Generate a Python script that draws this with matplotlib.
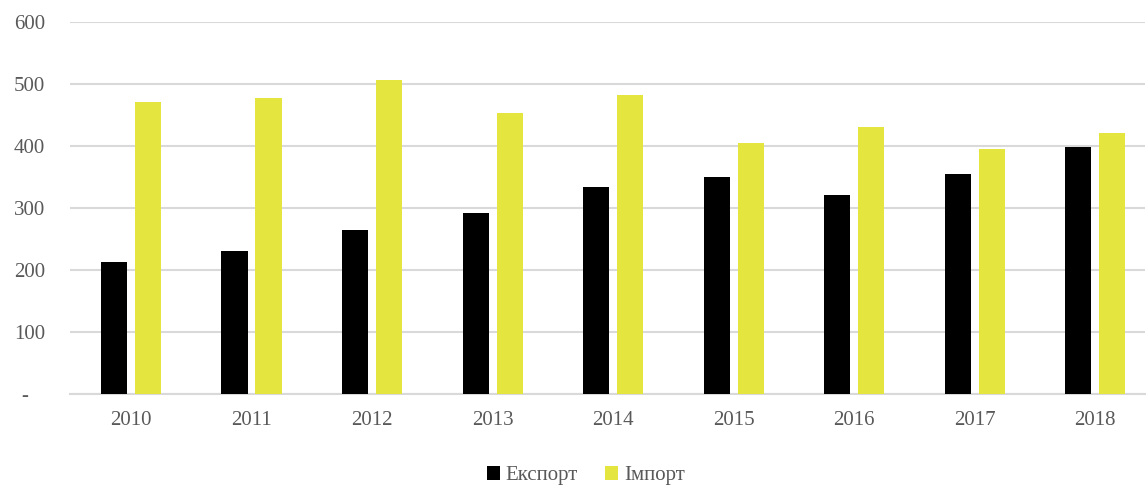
import numpy as np
import matplotlib
matplotlib.use("Agg")
from matplotlib import pyplot as plt

years = ["2010", "2011", "2012", "2013", "2014", "2015", "2016", "2017", "2018"]
export = [213, 231, 265, 292, 334, 350, 321, 355, 398]
imports = [471, 477, 506, 453, 482, 405, 431, 395, 421]
y_ticks = [0, 100, 200, 300, 400, 500, 600]
y_labels = ["-   ", "100", "200", "300", "400", "500", "600"]

plt.rcParams['font.family'] = ['Liberation Serif', 'DejaVu Serif']
grey = '#595959'

fig = plt.figure(figsize=(11.47, 4.87), dpi=100)
ax = fig.add_axes([0.061, 0.191, 0.937, 0.764])

x = np.arange(len(years))
w = 0.216
ax.bar(x - 0.141, export, w, color='black', label='Експорт', zorder=3)
ax.bar(x + 0.141, imports, w, color='#e5e540', label='Імпорт', zorder=3)

ax.set_ylim(0, 600)
ax.set_xlim(-0.506, 8.41)
ax.set_yticks(y_ticks)
ax.set_yticklabels(y_labels)
ax.set_xticks(x)
ax.set_xticklabels(years)
ax.yaxis.grid(True, color='#d9d9d9', linewidth=1.5, zorder=0)
for s in ['top', 'right', 'left']:
    ax.spines[s].set_visible(False)
ax.spines['bottom'].set_color('#d9d9d9')
ax.spines['bottom'].set_linewidth(1.5)
ax.tick_params(axis='both', length=0, labelsize=15, colors=grey)
ax.tick_params(axis='x', pad=12)
ax.tick_params(axis='y', pad=18)

leg = ax.legend(loc='center', bbox_to_anchor=(0.48, -0.22), ncol=2, frameon=False,
                fontsize=15, handlelength=0.6, handleheight=0.6, handletextpad=0.3,
                columnspacing=1.3)
for t in leg.get_texts():
    t.set_color(grey)

fig.savefig('out.png', dpi=100)
